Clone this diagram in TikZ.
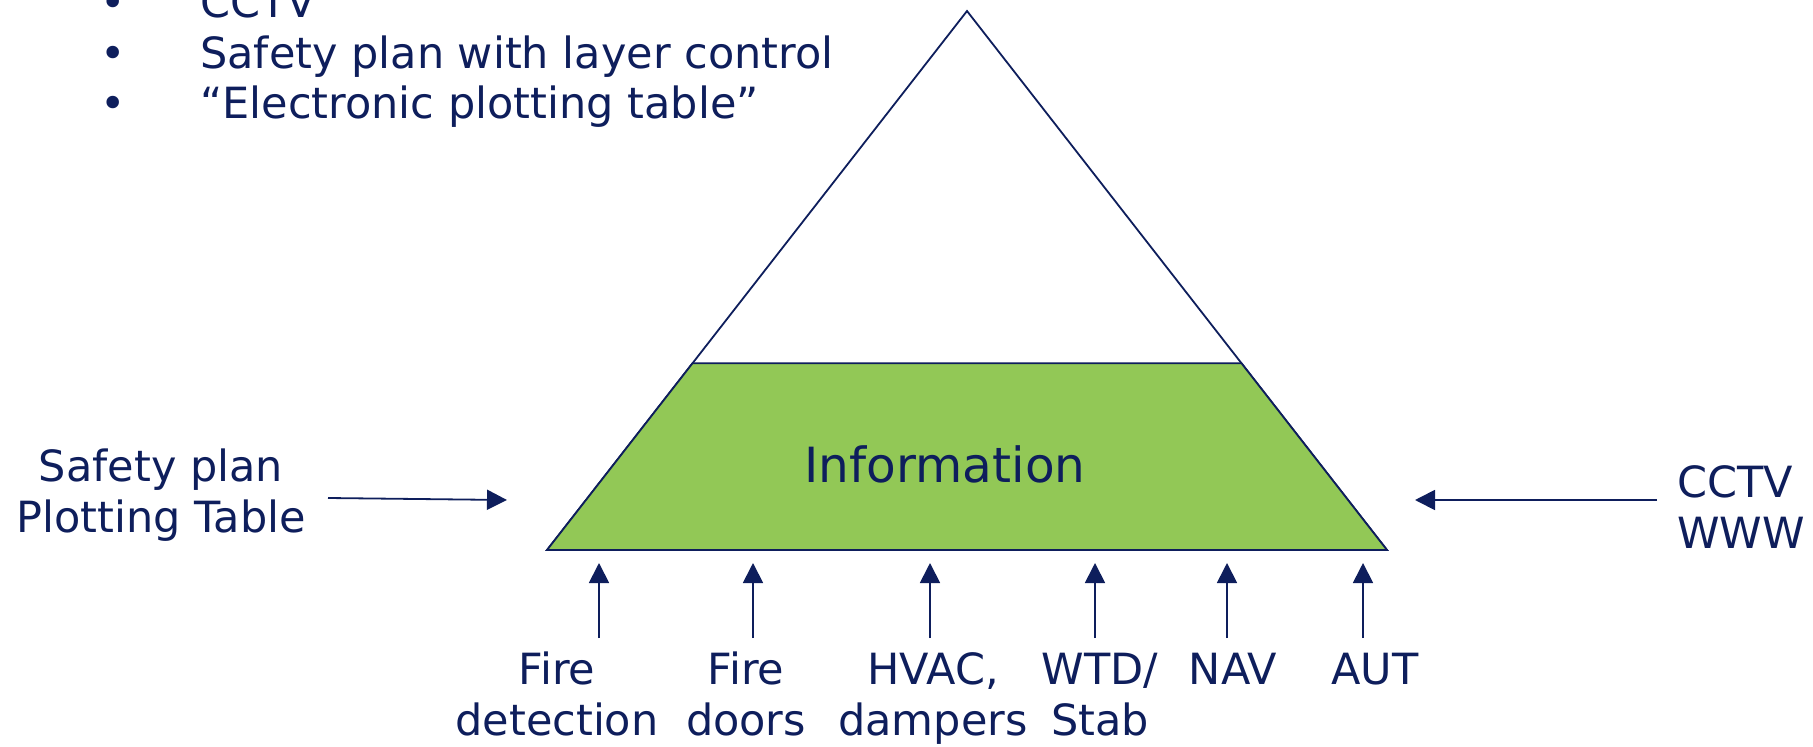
\documentclass[tikz,border=0pt]{standalone}
\usepackage{fontspec}
\setmainfont{DejaVu Sans}
\usetikzlibrary{arrows.meta,calc}
\definecolor{navy}{RGB}{14,30,92}
\definecolor{leaf}{RGB}{146,200,86}
\tikzset{
  lbl/.style={text=navy,inner sep=0pt,font=\fontsize{43}{51}\selectfont},
  mlbl/.style={lbl,align=center},
  edge/.style={draw=navy,line width=1.8pt,line join=miter},
  arr/.style={navy,line width=1.8pt,-{Triangle[length=20pt,width=20pt]}}
}
\begin{document}
\begin{tikzpicture}[x=1pt,y=-1pt]
\useasboundingbox (0,0) rectangle (1813,747);
% pyramid corners
\coordinate (apex) at (967,11);
\coordinate (bl) at (547,550);
\coordinate (br) at (1387,550);
\coordinate (ml) at ($(apex)!0.6535!(bl)$);
\coordinate (mr) at ($(apex)!0.6535!(br)$);
% white top part and green band
\draw[edge,fill=white] (apex) -- (bl) -- (br) -- cycle;
\draw[edge,fill=leaf] (ml) -- (bl) -- (br) -- (mr) -- cycle;
\node[lbl,font=\fontsize{48.5}{56}\selectfont,anchor=base] (info) at (945,482) {Information};

% bullet list at top left
\foreach \y/\t [count=\i] in {17/CCTV,68/Safety plan with layer control,118/“Electronic plotting table”}{
  \node[lbl,anchor=base] (b\i) at (113,\y) {•};
  \node[lbl,anchor=base west] (t\i) at (200,\y) {\t};
}

% side inputs (a multi-line node's base is its last line)
\node[mlbl,anchor=base] (left) at (161,532) {Safety plan\\Plotting Table};
\node[lbl,anchor=base west,align=left] (right) at (1677,548) {CCTV\\WWW};
\coordinate (lt) at (328,498);
\coordinate (lh) at (507,500);
\coordinate (rt) at (1657,500);
\coordinate (rh) at (1415,500);
\draw[arr] (lt) -- (lh);
\draw[arr] (rt) -- (rh);

% bottom inputs
\foreach \lx/\ax/\t/\yb [count=\i] in {
  557/599/{Fire\\detection}/735,
  746/753/{Fire\\doors}/735,
  933/930/{HVAC,\\dampers}/735,
  1100/1095/{WTD/\\Stab}/735,
  1233/1227/{NAV}/684,
  1375/1363/{AUT}/684}{
  \node[mlbl,anchor=base] (s\i) at (\lx,\yb) {\t};
  \coordinate (st\i) at (\ax,638);
  \coordinate (sh\i) at (\ax,563);
  \draw[arr] (st\i) -- (sh\i);
}
\end{tikzpicture}
\end{document}
